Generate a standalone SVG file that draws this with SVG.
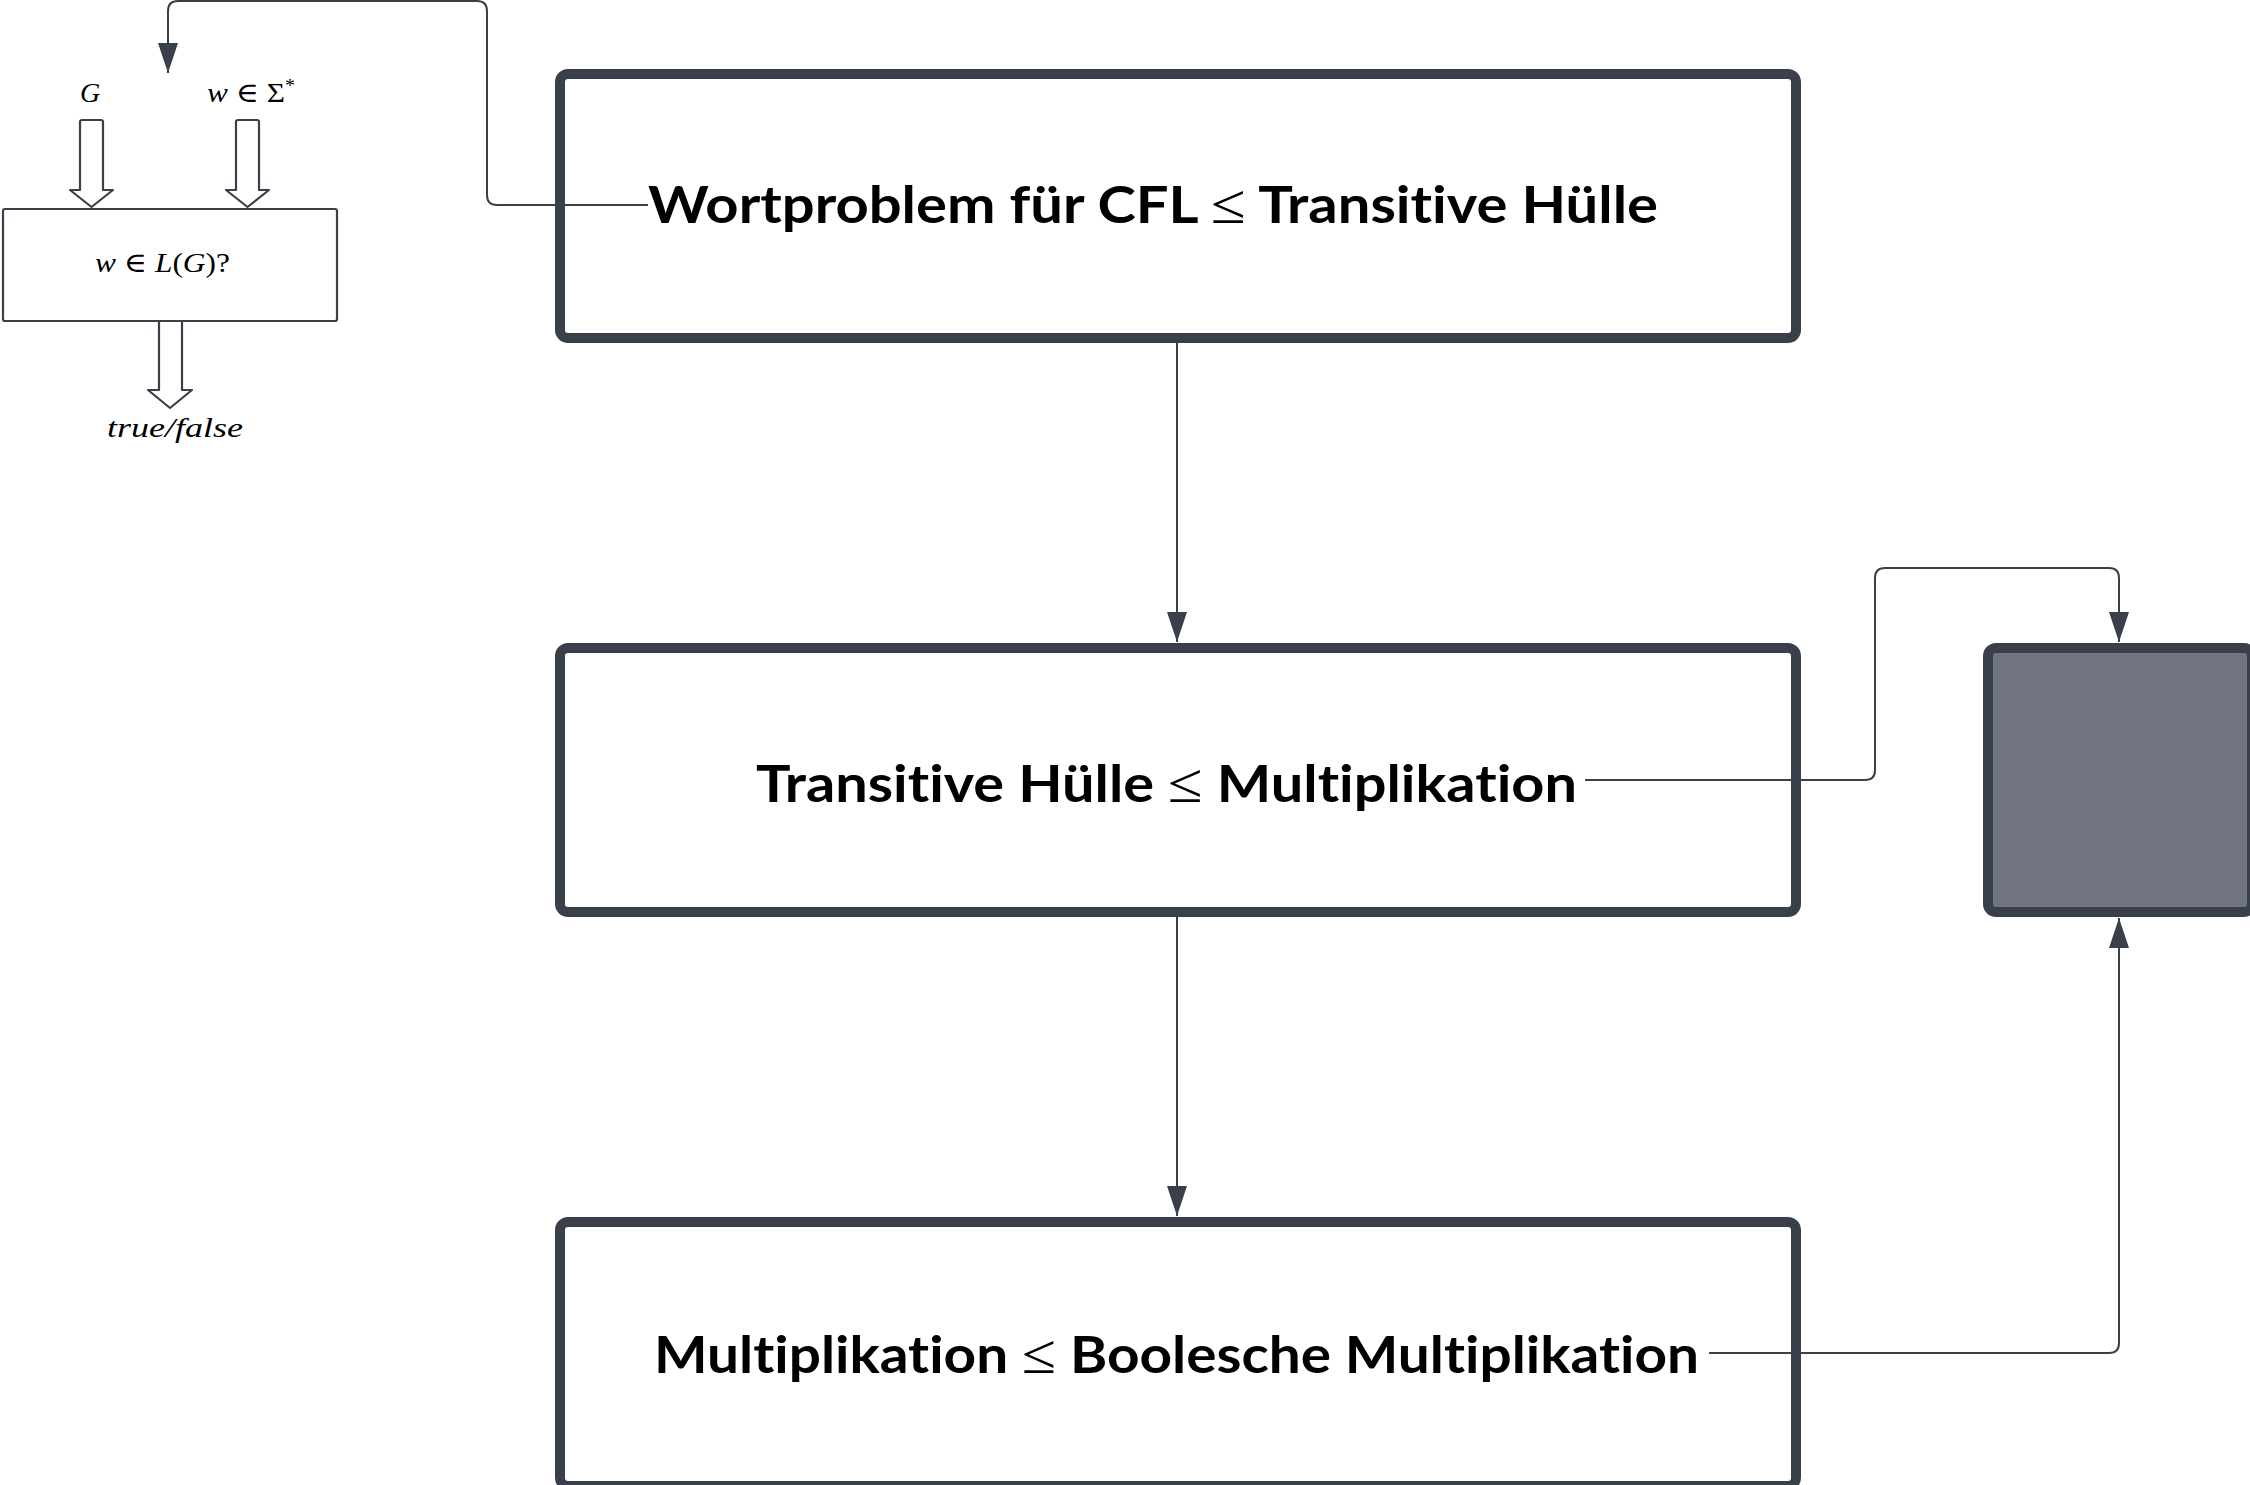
<svg xmlns="http://www.w3.org/2000/svg" width="2250" height="1485" viewBox="0 0 2250 1485">
<style>
.box{fill:#ffffff;stroke:#3a404a;stroke-width:10}
.dark{fill:#70757f;stroke:#3a404a;stroke-width:10}
.lbl{font-family:Lato,"Open Sans","Liberation Sans",sans-serif;font-weight:bold;font-size:51px;fill:#000;font-variant-ligatures:none;font-feature-settings:"liga" 0}
.le{font-family:"Liberation Serif","DejaVu Serif",serif;font-weight:normal;font-size:56px}
.math{font-family:"Liberation Serif","DejaVu Serif",serif;font-size:28px;fill:#000}
.it{font-style:italic}
.conn{fill:none;stroke:#3a404a;stroke-width:2}
.hollow{fill:#ffffff;stroke:#3a404a;stroke-width:2.2;stroke-linejoin:round}
.small{fill:#ffffff;stroke:#3a404a;stroke-width:2.2}
</style>
<defs>
<marker id="ah2" markerUnits="userSpaceOnUse" markerWidth="30" markerHeight="20" viewBox="0 0 30 20" refX="30" refY="10" orient="auto">
<path d="M0,0 L30,10 L0,20 Z" fill="#3a404a"/>
</marker>
</defs>
<g id="wortproblem">
<rect class="box" x="560" y="74" width="1236" height="264" rx="8"/>
<text class="lbl" x="648" y="223" textLength="1010" lengthAdjust="spacingAndGlyphs">Wortproblem für CFL <tspan class="le">≤</tspan> Transitive Hülle</text>
</g>
<g id="transitive">
<rect class="box" x="560" y="648" width="1236" height="264" rx="8"/>
<text class="lbl" x="756" y="802" textLength="821" lengthAdjust="spacingAndGlyphs">Transitive Hülle <tspan class="le">≤</tspan> Multiplikation</text>
</g>
<g id="multiplikation">
<rect class="box" x="560" y="1222" width="1236" height="264" rx="8"/>
<text class="lbl" x="654" y="1373" textLength="1045" lengthAdjust="spacingAndGlyphs">Multiplikation <tspan class="le">≤</tspan> Boolesche Multiplikation</text>
</g>
<g id="dark-box">
<rect class="dark" x="1988" y="648" width="264" height="264" rx="8"/>
</g>
<g id="wordproblem-machine">
<path class="hollow" d="M80,122 Q80,120 82,120 L101,120 Q103,120 103,122 L103,190 L113,190 L91.5,207 L70,190 L80,190 Z"/>
<path class="hollow" d="M236,122 Q236,120 238,120 L257,120 Q259,120 259,122 L259,190 L269,190 L247.5,207 L226,190 L236,190 Z"/>
<path class="hollow" d="M159,321 L182,321 L182,390 L192,390 L170,408 L148,390 L159,390 Z"/>
<rect class="small" x="3" y="209" width="334" height="112" rx="2"/>
<text class="math it" x="80" y="102">G</text>
<text class="math" x="207" y="102" textLength="88" lengthAdjust="spacingAndGlyphs"><tspan class="it">w</tspan> ∈ Σ<tspan font-size="18" dy="-10">*</tspan></text>
<text class="math" x="95" y="272" textLength="135" lengthAdjust="spacingAndGlyphs"><tspan class="it">w</tspan> ∈ <tspan class="it">L</tspan>(<tspan class="it">G</tspan>)?</text>
<text class="math it" x="107" y="437" textLength="136" lengthAdjust="spacingAndGlyphs">true/false</text>
</g>
<g id="connectors">
<path class="conn" d="M648,205 L497,205 Q487,205 487,195 L487,11 Q487,1 477,1 L178,1 Q168,1 168,11 L168,73" marker-end="url(#ah2)"/>
<path class="conn" d="M1177,343 L1177,642" marker-end="url(#ah2)"/>
<path class="conn" d="M1177,917 L1177,1216" marker-end="url(#ah2)"/>
<path class="conn" d="M1585,780 L1865,780 Q1875,780 1875,770 L1875,578 Q1875,568 1885,568 L2109,568 Q2119,568 2119,578 L2119,642" marker-end="url(#ah2)"/>
<path class="conn" d="M1709,1353 L2109,1353 Q2119,1353 2119,1343 L2119,918" marker-end="url(#ah2)"/>
</g>
</svg>
